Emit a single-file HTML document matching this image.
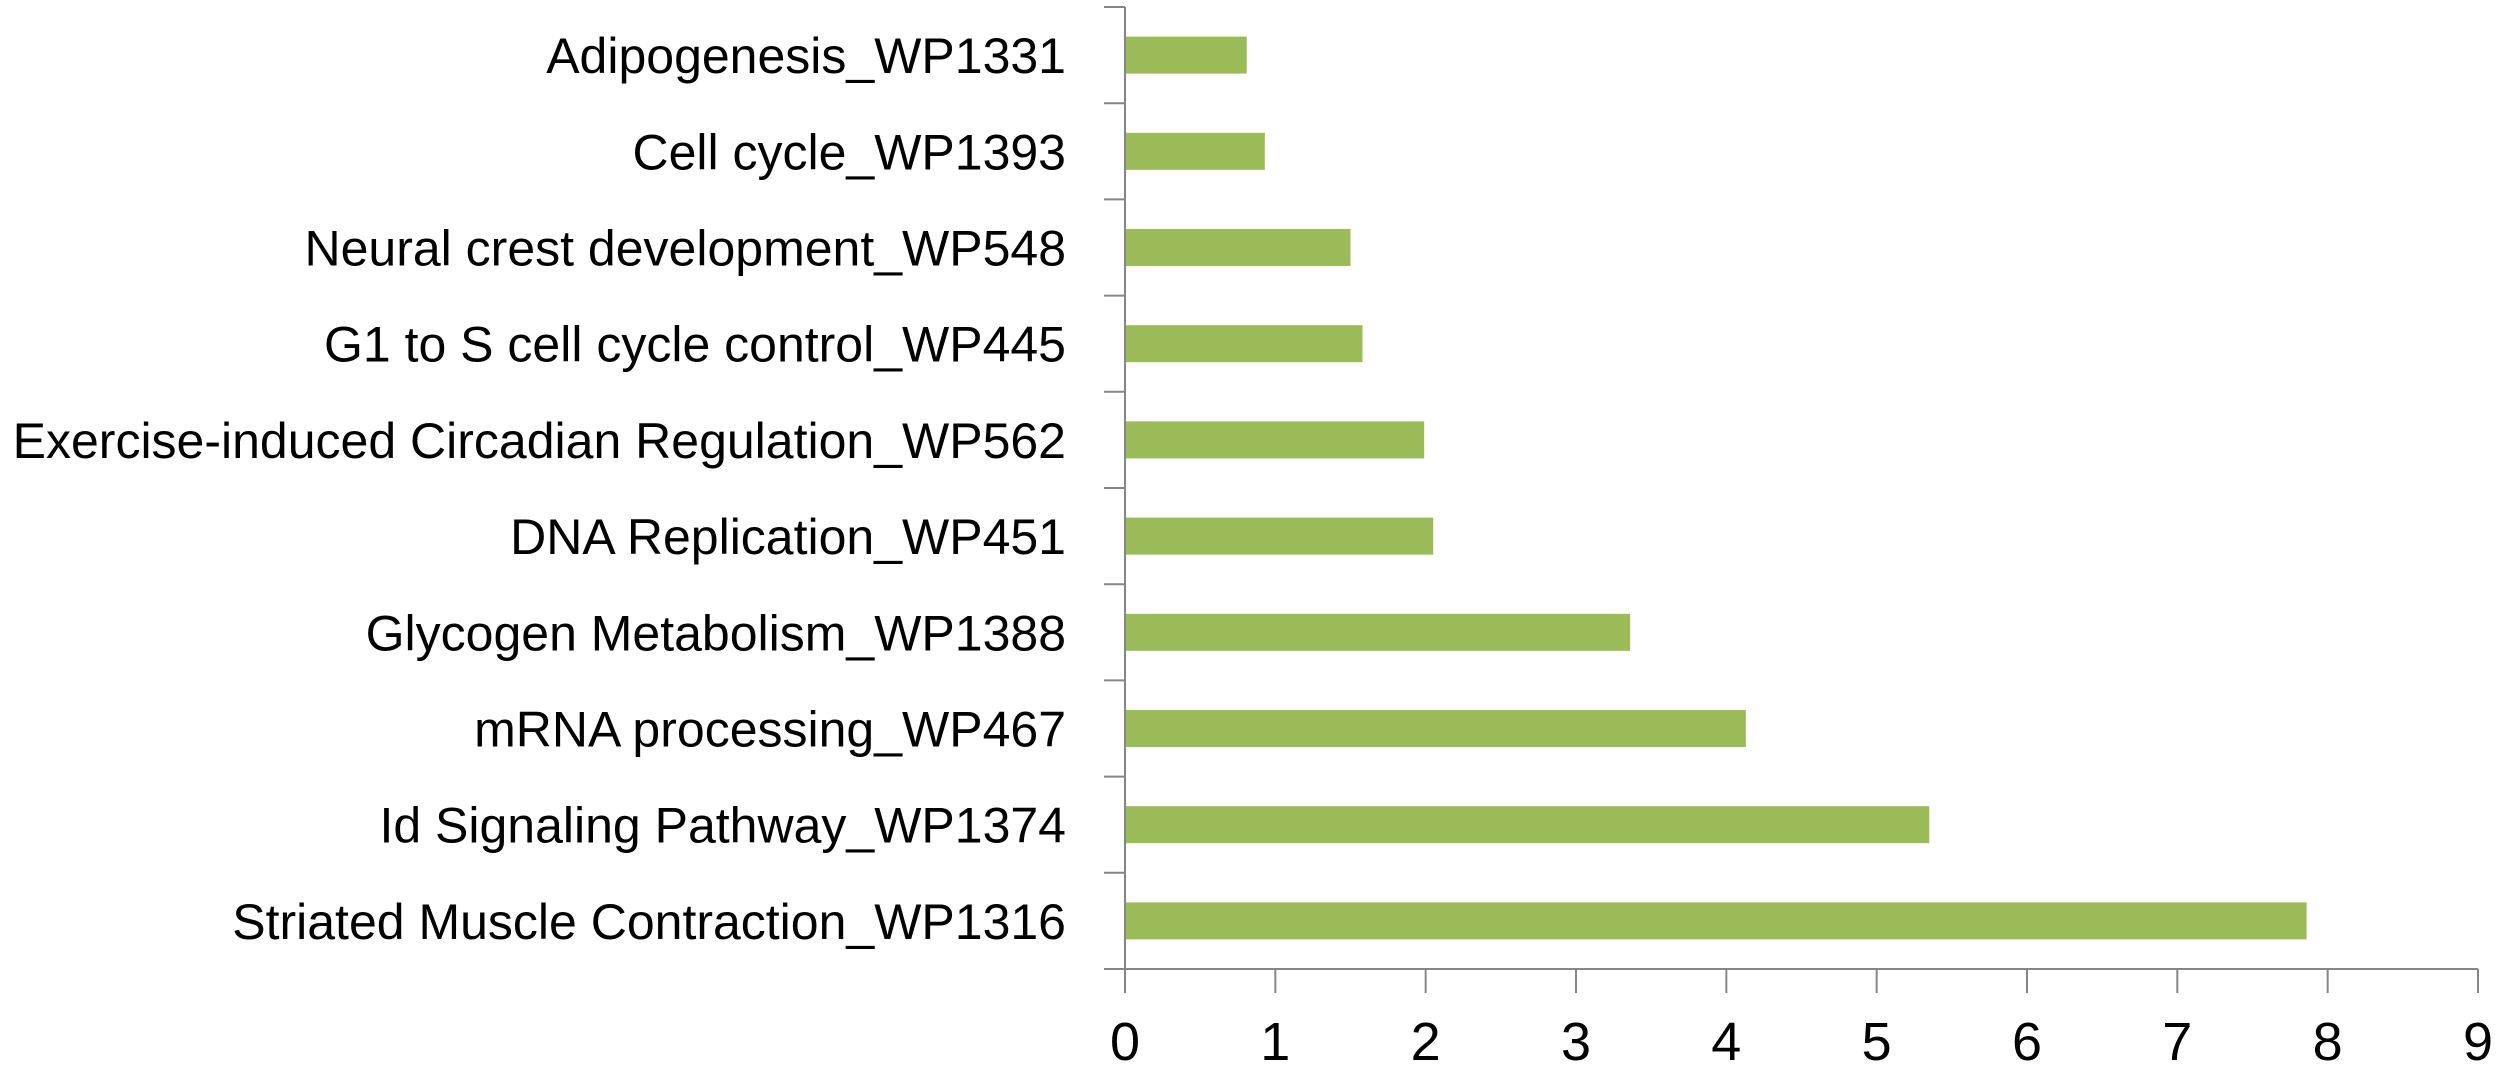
<!DOCTYPE html>
<html><head><meta charset="utf-8"><style>
html,body{margin:0;padding:0;background:#fff;}
svg{display:block;}
text{font-family:"Liberation Sans",sans-serif;fill:#000;}
</style></head><body>
<svg id="chart" width="2500" height="1066" viewBox="0 0 2500 1066" xmlns="http://www.w3.org/2000/svg"></svg>
<script>
const categories = ["Adipogenesis_WP1331","Cell cycle_WP1393","Neural crest development_WP548","G1 to S cell cycle control_WP445","Exercise-induced Circadian Regulation_WP562","DNA Replication_WP451","Glycogen Metabolism_WP1388","mRNA processing_WP467","Id Signaling Pathway_WP1374","Striated Muscle Contraction_WP1316"];
const values = [0.81, 0.93, 1.50, 1.58, 1.99, 2.05, 3.36, 4.13, 5.35, 7.86];
const xTicks = [0,1,2,3,4,5,6,7,8,9];

const NS = "http://www.w3.org/2000/svg";
const svg = document.getElementById("chart");
const x0 = 1125, x1 = 2478, yTop = 7, yBot = 969;
const xMax = 9;
function xScale(v){ return x0 + (v / xMax) * (x1 - x0); }
const band = (yBot - yTop) / categories.length;
function yScale(i){ return yTop + band * (i + 0.5); }
function mk(tag, attrs){ const e = document.createElementNS(NS, tag); for (const k in attrs) e.setAttribute(k, attrs[k]); svg.appendChild(e); return e; }

values.forEach((v, i) => {
  const r = mk("rect", {x: x0, y: yScale(i) - 18.5, width: xScale(v) - x0, height: 37, fill: "#9BBB59"});
  
  
});
categories.forEach((c, i) => {
  const t = mk("text", {x: 1066, y: yScale(i) + 18, "text-anchor": "end", "font-size": 50});
  t.textContent = c;
  
  
});
const ya = mk("line", {x1: x0, y1: yTop, x2: x0, y2: yBot, stroke: "#868686", "stroke-width": 2});


for (let i = 0; i <= categories.length; i++) {
  const y = yTop + band * i;
  const tk = mk("line", {x1: x0 - 21, y1: y, x2: x0, y2: y, stroke: "#868686", "stroke-width": 2});
  
  
}
const xa = mk("line", {x1: x0 - 21, y1: yBot, x2: x1, y2: yBot, stroke: "#868686", "stroke-width": 2});


xTicks.forEach(v => {
  const x = xScale(v);
  const tk = mk("line", {x1: x, y1: yBot, x2: x, y2: yBot + 24, stroke: "#868686", "stroke-width": 2});
  
  
  const t = mk("text", {x: x, y: 1060, "text-anchor": "middle", "font-size": 54});
  t.textContent = v;
  
  
});
</script>
</body></html>
